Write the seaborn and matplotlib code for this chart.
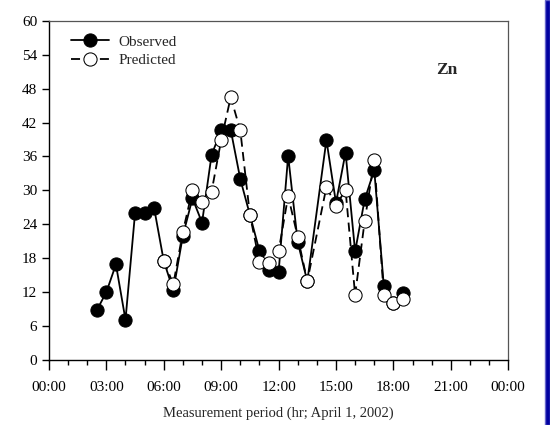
import matplotlib
matplotlib.use("Agg")
import matplotlib.pyplot as plt
import seaborn as sns
import pandas as pd
from matplotlib.patches import Rectangle
from matplotlib.ticker import MultipleLocator

# measurement times in hours (April 1, 2002); no sample at 14:00
obs_hours = [2.5, 3.0, 3.5, 4.0, 4.5, 5.0, 5.5, 6.0, 6.5, 7.0, 7.5, 8.0, 8.5, 9.0,
             9.5, 10.0, 10.5, 11.0, 11.5, 12.0, 12.5, 13.0, 13.5, 14.5, 15.0,
             15.5, 16.0, 16.5, 17.0, 17.5, 18.0, 18.5]
observed = [8.8, 12.0, 16.9, 7.1, 26.0, 26.0, 26.8, 17.5, 12.3, 22.0, 28.6, 24.3,
            36.3, 40.6, 40.7, 32.0, 25.7, 19.3, 16.0, 15.5, 36.1, 20.9, 13.9,
            38.9, 27.8, 36.7, 19.2, 28.4, 33.6, 13.1, 10.0, 11.8]

pred_hours = [6.0, 6.5, 7.0, 7.5, 8.0, 8.5, 9.0, 9.5, 10.0, 10.5, 11.0, 11.5,
              12.0, 12.5, 13.0, 13.5, 14.5, 15.0, 15.5, 16.0, 16.5, 17.0, 17.5,
              18.0, 18.5]
predicted = [17.5, 13.4, 22.7, 30.1, 28.0, 29.8, 38.9, 46.5, 40.6, 25.7, 17.4,
             17.2, 19.2, 29.0, 21.8, 13.9, 30.6, 27.3, 30.1, 11.5, 24.6, 35.3,
             11.5, 10.0, 10.7]

x_ticks = [0, 3, 6, 9, 12, 15, 18, 21, 24]
x_labels = ["00:00", "03:00", "06:00", "09:00", "12:00", "15:00", "18:00", "21:00", "00:00"]

obs_df = pd.DataFrame({"hour": obs_hours, "value": observed})
pred_df = pd.DataFrame({"hour": pred_hours, "value": predicted})

sns.set_style("ticks")
plt.rcParams["font.family"] = ["Liberation Serif", "DejaVu Serif"]

fig = plt.figure(figsize=(5.5, 4.25), dpi=100)
ax = fig.add_axes([0.089, 0.153, 0.835, 0.798])

sns.lineplot(data=obs_df, x="hour", y="value", ax=ax, color="black", lw=1.3,
             marker="o", markersize=9.5, markerfacecolor="black",
             markeredgecolor="black", label="Observed")
sns.lineplot(data=pred_df, x="hour", y="value", ax=ax, color="black", lw=1.3,
             linestyle=(0, (5, 3)), marker="o", markersize=9.5,
             markerfacecolor="white", markeredgecolor="black", label="Predicted")

ax.set_xlim(0, 24)
ax.set_ylim(0, 60)
ax.set_xticks(x_ticks)
ax.set_xticklabels(x_labels)
ax.xaxis.set_minor_locator(MultipleLocator(1))
ax.set_yticks(range(0, 61, 6))
ax.tick_params(axis="both", which="major", labelsize=11, direction="out",
               length=5, width=1, color="black", labelcolor="black")
ax.tick_params(axis="x", which="major", length=7, pad=8)
ax.tick_params(axis="x", which="minor", length=3.5, width=1, color="black")

for side in ["top", "right"]:
    ax.spines[side].set_visible(True)
    ax.spines[side].set_color("#555555")
    ax.spines[side].set_linewidth(0.9)
for side in ["left", "bottom"]:
    ax.spines[side].set_color("black")
    ax.spines[side].set_linewidth(1.0)

ax.set_xlabel("Measurement period (hr; April 1, 2002)", fontsize=10.5, labelpad=9)
ax.set_ylabel("")

ax.text(0.866, 0.855, "Zn", transform=ax.transAxes, fontsize=12.5,
        fontweight="bold", ha="center", va="center")

ax.legend(loc="upper left", bbox_to_anchor=(0.025, 0.99), frameon=False,
          fontsize=11, handlelength=2.5, borderaxespad=0.3, labelspacing=0.3,
          handletextpad=0.6)

# blue strip at the right edge of the original page
fig.patches.append(Rectangle((0.9905, 0), 0.0095, 1, transform=fig.transFigure,
                             facecolor="#0000a0", edgecolor="#6666cc",
                             linewidth=1, zorder=0))

fig.savefig("out.png", dpi=100)
